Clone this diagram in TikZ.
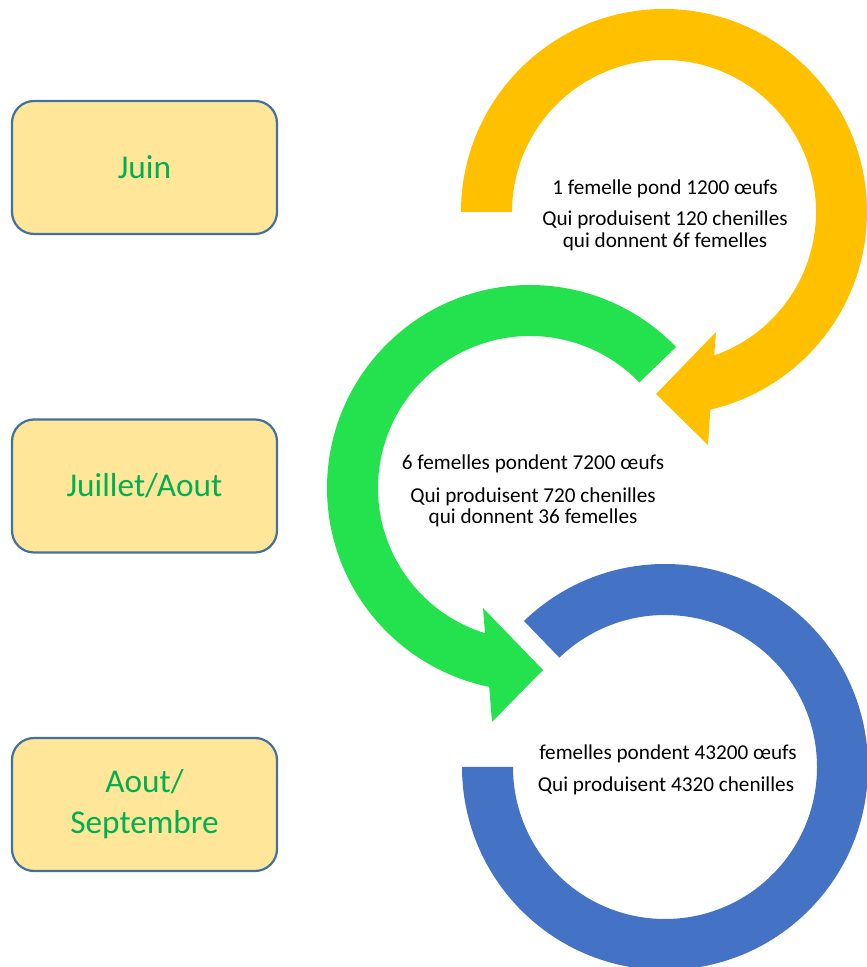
\documentclass[tikz,border=0pt]{standalone}
\usepackage{fontspec}
\setmainfont{Carlito}
\usepackage{tikz}
\usetikzlibrary{positioning}
\definecolor{moisfill}{HTML}{FFE699}
\definecolor{moisline}{HTML}{41719C}
\definecolor{moistext}{HTML}{00B050}
\definecolor{jaune}{HTML}{FFC000}
\definecolor{vert}{HTML}{23E24E}
\definecolor{bleu}{HTML}{4472C4}

\begin{document}
\begin{tikzpicture}[x=1pt,y=1pt,
  mois/.style={draw=moisline,line width=2.2pt,fill=moisfill,rounded corners=22pt,
    minimum width=265pt,minimum height=133pt,align=center,
    text=moistext,font=\fontsize{33.3}{41}\selectfont},
  ligne/.style={anchor=base,inner sep=0pt,font=\fontsize{21.2}{23}\selectfont}]
\useasboundingbox (0,0) rectangle (867,967);
% les mois
\node[mois] (juin) at (144.5,799.5) {Juin};
\node[mois] (juillet) at (144.5,481) {Juillet/Aout};
\node[mois] (aout) at (144.5,162.5) {Aout/\\Septembre};
% fleche jaune
\begin{scope}[shift={(664,755)}]
  \fill[jaune] (180:203) arc[start angle=180,end angle=-76.8,radius=203pt]
    -- (44,-233) -- (-8,-182) -- (52,-120) -- (-70.7:152)
    arc[start angle=-70.7,end angle=180,radius=152pt] -- cycle;
\end{scope}
% fleche verte
\begin{scope}[shift={(530,479)}]
  \fill[vert] (44:203) arc[start angle=44,end angle=258.4,radius=203pt]
    -- (-38,-234) -- (13,-182) -- (-47,-120) -- (252.8:152)
    arc[start angle=252.8,end angle=44,radius=152pt] -- cycle;
\end{scope}
% cercle bleu
\begin{scope}[shift={(665,200)}]
  \fill[bleu] (134:203) arc[start angle=134,end angle=-180,radius=203pt]
    -- (-180:152) arc[start angle=-180,end angle=134,radius=152pt] -- cycle;
\end{scope}
% textes
\node[ligne] (j1) at (665,772) {1 femelle pond 1200 œufs};
\node[ligne] (j2) at (665,741) {Qui produisent 120 chenilles};
\node[ligne] (j3) at (665,719) {qui donnent 6f femelles};
\node[ligne] (v1) at (533,497) {6 femelles pondent 7200 œufs};
\node[ligne] (v2) at (533,464) {Qui produisent 720 chenilles};
\node[ligne] (v3) at (533,443) {qui donnent 36 femelles};
\node[ligne] (b1) at (668,207) {femelles pondent 43200 œufs};
\node[ligne] (b2) at (666,175) {Qui produisent 4320 chenilles};
\end{tikzpicture}
\end{document}
